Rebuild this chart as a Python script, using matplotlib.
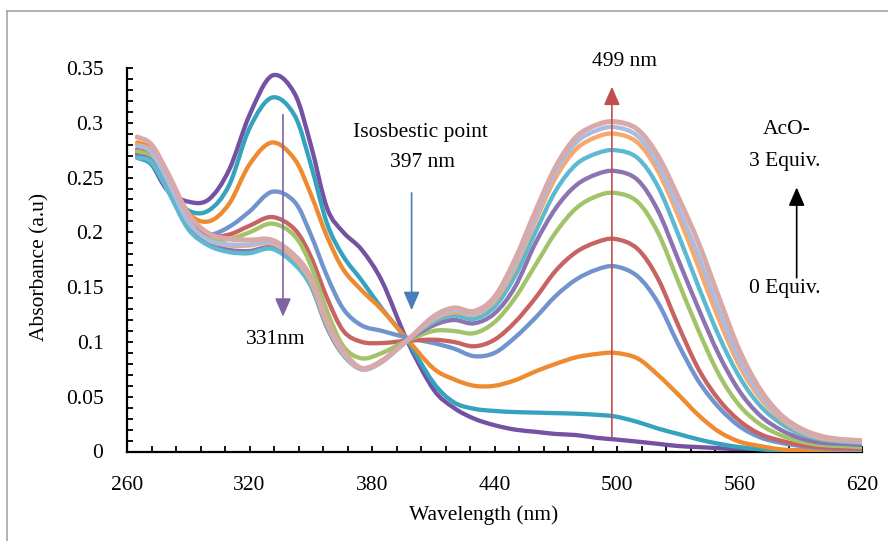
import numpy as np
import matplotlib
matplotlib.use("Agg")
from matplotlib import pyplot as plt
from matplotlib.path import Path
from matplotlib.patches import PathPatch
from matplotlib.lines import Line2D
from matplotlib.ticker import MultipleLocator, FixedLocator, FuncFormatter

plt.rcParams['font.family'] = ['Liberation Serif', 'DejaVu Serif']

# wavelength grid (nm) shared by all spectra
wavelength = [265, 272, 280, 290, 300, 310, 320, 331, 342, 350, 358, 366, 375, 385,
              397, 410, 420, 430, 440, 450, 460, 470, 480, 490, 499, 510, 520, 530,
              540, 550, 560, 570, 580, 590, 600, 610, 620]

# absorbance for each AcO- addition, 0 -> 3 equiv.
abs_00 = [0.272, 0.262, 0.238, 0.228, 0.230, 0.257, 0.307, 0.343, 0.327, 0.280, 0.222, 0.200, 0.184, 0.155,
          0.102, 0.057, 0.040, 0.030, 0.024, 0.020, 0.018, 0.016, 0.015, 0.0125, 0.011, 0.009, 0.007, 0.005,
          0.004, 0.003, 0.002, 0.001, 0.001, 0.0, 0.0, 0.0, 0.0]
abs_01 = [0.268, 0.262, 0.240, 0.220, 0.220, 0.243, 0.295, 0.323, 0.307, 0.262, 0.208, 0.178, 0.156, 0.130,
          0.102, 0.063, 0.045, 0.039, 0.037, 0.036, 0.0355, 0.035, 0.0345, 0.0335, 0.032, 0.027, 0.021, 0.016,
          0.011, 0.007, 0.004, 0.002, 0.001, 0.001, 0.0, 0.0, 0.0]
abs_02 = [0.282, 0.276, 0.252, 0.218, 0.210, 0.226, 0.262, 0.282, 0.267, 0.235, 0.196, 0.166, 0.147, 0.129,
          0.103, 0.076, 0.066, 0.060, 0.060, 0.065, 0.073, 0.080, 0.086, 0.089, 0.090, 0.085, 0.070, 0.052,
          0.033, 0.018, 0.009, 0.005, 0.002, 0.001, 0.001, 0.0, 0.0]
abs_03 = [0.275, 0.270, 0.245, 0.207, 0.198, 0.205, 0.219, 0.237, 0.228, 0.198, 0.160, 0.130, 0.115, 0.110,
          0.104, 0.099, 0.094, 0.087, 0.090, 0.104, 0.122, 0.142, 0.157, 0.166, 0.169, 0.160, 0.136, 0.098,
          0.064, 0.040, 0.023, 0.013, 0.008, 0.005, 0.003, 0.002, 0.002]
abs_04 = [0.276, 0.270, 0.245, 0.210, 0.197, 0.198, 0.206, 0.214, 0.203, 0.178, 0.140, 0.110, 0.100, 0.099,
          0.101, 0.102, 0.100, 0.096, 0.102, 0.118, 0.140, 0.165, 0.182, 0.191, 0.194, 0.185, 0.158, 0.115,
          0.075, 0.047, 0.028, 0.016, 0.010, 0.006, 0.004, 0.003, 0.003]
abs_05 = [0.274, 0.268, 0.243, 0.208, 0.194, 0.194, 0.200, 0.208, 0.197, 0.170, 0.128, 0.096, 0.085, 0.090,
          0.101, 0.110, 0.110, 0.108, 0.118, 0.140, 0.170, 0.200, 0.222, 0.233, 0.236, 0.228, 0.200, 0.155,
          0.110, 0.070, 0.042, 0.025, 0.015, 0.009, 0.006, 0.005, 0.004]
abs_06 = [0.270, 0.265, 0.240, 0.205, 0.190, 0.184, 0.183, 0.186, 0.172, 0.152, 0.113, 0.088, 0.076, 0.083,
          0.101, 0.115, 0.120, 0.117, 0.126, 0.150, 0.190, 0.222, 0.243, 0.253, 0.256, 0.248, 0.220, 0.175,
          0.130, 0.088, 0.055, 0.033, 0.020, 0.012, 0.008, 0.007, 0.006]
abs_07 = [0.268, 0.264, 0.238, 0.203, 0.188, 0.182, 0.181, 0.185, 0.171, 0.151, 0.114, 0.088, 0.075, 0.082,
          0.101, 0.118, 0.124, 0.121, 0.132, 0.160, 0.200, 0.238, 0.262, 0.272, 0.275, 0.268, 0.242, 0.198,
          0.150, 0.105, 0.068, 0.042, 0.026, 0.016, 0.011, 0.009, 0.008]
abs_08 = [0.280, 0.274, 0.247, 0.210, 0.193, 0.188, 0.188, 0.190, 0.176, 0.155, 0.116, 0.089, 0.075, 0.082,
          0.101, 0.120, 0.127, 0.125, 0.137, 0.168, 0.210, 0.250, 0.276, 0.287, 0.290, 0.282, 0.256, 0.215,
          0.168, 0.120, 0.078, 0.049, 0.030, 0.018, 0.012, 0.010, 0.009]
abs_09 = [0.279, 0.273, 0.247, 0.210, 0.193, 0.189, 0.189, 0.191, 0.178, 0.157, 0.118, 0.090, 0.075, 0.082,
          0.101, 0.121, 0.129, 0.126, 0.139, 0.171, 0.214, 0.255, 0.282, 0.293, 0.296, 0.288, 0.262, 0.222,
          0.178, 0.128, 0.083, 0.052, 0.032, 0.019, 0.013, 0.010, 0.009]
abs_10 = [0.287, 0.280, 0.254, 0.217, 0.199, 0.194, 0.193, 0.193, 0.179, 0.159, 0.120, 0.092, 0.076, 0.083,
          0.101, 0.123, 0.131, 0.128, 0.141, 0.175, 0.219, 0.260, 0.287, 0.298, 0.301, 0.294, 0.270, 0.232,
          0.190, 0.140, 0.092, 0.057, 0.034, 0.021, 0.014, 0.011, 0.010]

spectra = [abs_00, abs_01, abs_02, abs_03, abs_04, abs_05, abs_06, abs_07, abs_08, abs_09, abs_10]
colors = ['#7451A2', '#35A3BD', '#EE8A30', '#7094CD', '#C76463', '#A1C46A',
          '#8C74B0', '#5DB9D2', '#F9A76A', '#A9BDE0', '#D9A9A9']

x_major = [260, 320, 380, 440, 500, 560, 620]


def smooth_path(x, y):
    # catmull-rom through the points, written as cubic bezier segments
    p = np.column_stack([x, y]).astype(float)
    ext = np.vstack([p[0], p, p[-1]])
    verts = [p[0]]
    codes = [Path.MOVETO]
    for i in range(1, len(ext) - 2):
        p0, p1, p2, p3 = ext[i - 1], ext[i], ext[i + 1], ext[i + 2]
        verts += [p1 + (p2 - p0) / 6.0, p2 - (p3 - p1) / 6.0, p2]
        codes += [Path.CURVE4] * 3
    return Path(verts, codes)


fig = plt.figure(figsize=(8.88, 5.41), dpi=100)
ax = fig.add_axes([127 / 888, 1 - 451.5 / 541, 735 / 888, 383.5 / 541])

for i, (vals, c) in enumerate(zip(spectra, colors)):
    lw = 3.6 if i == len(spectra) - 1 else 3.1
    ax.add_patch(PathPatch(smooth_path(wavelength, vals), fill=False, edgecolor=c,
                           lw=lw, capstyle='round', joinstyle='round', zorder=2 + i))

ax.set_xlim(260, 620)
ax.set_ylim(0, 0.35)
ax.xaxis.set_major_locator(FixedLocator(x_major))
ax.xaxis.set_minor_locator(FixedLocator(np.arange(260, 621, 12)))
ax.yaxis.set_major_locator(MultipleLocator(0.05))
ax.yaxis.set_minor_locator(MultipleLocator(0.01))
ax.yaxis.set_major_formatter(FuncFormatter(lambda v, p: '%g' % round(v, 2)))
for s in ['top', 'right']:
    ax.spines[s].set_visible(False)
for s in ['left', 'bottom']:
    ax.spines[s].set_linewidth(1.6)
ax.tick_params(which='both', direction='in', length=4, width=1.3, labelsize=15.5)
ax.tick_params(axis='y', which='both', pad=17)
ax.tick_params(axis='x', which='both', pad=18)

ax.set_xlabel('Wavelength (nm)', fontsize=15.5)
ax.set_ylabel('Absorbance (a.u)', fontsize=15.5)
ax.xaxis.set_label_coords(0.485, -0.166)
ax.yaxis.set_label_coords(-0.118, 0.481)
ax.xaxis.label.set_va('center')
ax.yaxis.label.set_va('center')

# arrows and notes
arr = dict(arrowstyle='-|>,head_length=0.8,head_width=0.35', lw=1.2, shrinkA=0, shrinkB=0)
ax.annotate('', xy=(336.4, 0.123), xytext=(336.4, 0.3075),
            arrowprops=dict(arr, color='#8064A2', mutation_scale=14), zorder=20)
ax.annotate('', xy=(399.4, 0.129), xytext=(399.4, 0.236),
            arrowprops=dict(arr, color='#4A7EBB', mutation_scale=14), zorder=20)
ax.annotate('', xy=(497.5, 0.333), xytext=(497.5, 0.013),
            arrowprops=dict(arr, color='#C0504D', mutation_scale=14), zorder=20)
ax.annotate('', xy=(588, 0.241), xytext=(588, 0.1585),
            arrowprops=dict(arr, color='black', mutation_scale=14), zorder=20)

notes = [('499 nm', 503.9, 0.356), ('Isosbestic point', 403.5, 0.291), ('397 nm', 404.5, 0.2636),
         ('331nm', 333.0, 0.102), ('AcO-', 583.3, 0.294), ('3 Equiv.', 582.3, 0.2645),
         ('0 Equiv.', 582.3, 0.1485)]
for txt, x, y in notes:
    ax.text(x, y, txt, ha='center', va='center', fontsize=15.5, zorder=21, clip_on=False)

# outer chart border
border = dict(color='#A6A6A6', lw=1.2, transform=fig.transFigure)
fig.add_artist(Line2D([6.5 / 888, 1.0], [1 - 10.5 / 541] * 2, **border))
fig.add_artist(Line2D([6.5 / 888] * 2, [0.0, 1 - 10.5 / 541], **border))

fig.savefig('out.png', dpi=100)
